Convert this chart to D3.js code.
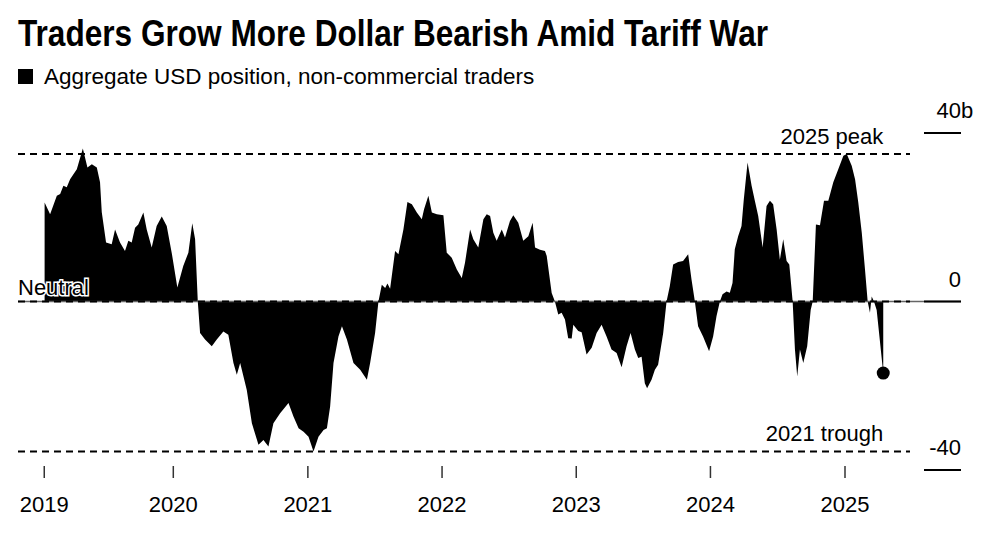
<!DOCTYPE html>
<html>
<head>
<meta charset="utf-8">
<script src="https://cdn.jsdelivr.net/npm/d3@7"></script>
<style>
  body { margin: 0; background: #fff; }
  svg { display: block; font-family: "Liberation Sans", Arial, Helvetica, sans-serif; }
</style>
</head>
<body>
<svg id="chart"></svg>
<script>
const width = 1000;
const height = 545;

// Weekly positions: fractional year, billions of USD
const weekYears = [
  2019.041, 2019.082, 2019.132, 2019.157, 2019.181, 2019.206, 2019.231, 2019.281, 2019.326, 2019.360,
  2019.393, 2019.430, 2019.454, 2019.467, 2019.499, 2019.541, 2019.566, 2019.603, 2019.640, 2019.665,
  2019.690, 2019.715, 2019.739, 2019.777, 2019.802, 2019.839, 2019.876, 2019.914, 2019.951, 2019.988,
  2020.030, 2020.074, 2020.112, 2020.141, 2020.162, 2020.182, 2020.199, 2020.236, 2020.286, 2020.323,
  2020.372, 2020.409, 2020.447, 2020.472, 2020.497, 2020.546, 2020.584, 2020.633, 2020.670, 2020.707,
  2020.744, 2020.794, 2020.856, 2020.893, 2020.931, 2020.968, 2021.005, 2021.042, 2021.079, 2021.117,
  2021.142, 2021.166, 2021.191, 2021.228, 2021.254, 2021.291, 2021.340, 2021.390, 2021.440, 2021.464,
  2021.501, 2021.526, 2021.551, 2021.576, 2021.593, 2021.613, 2021.650, 2021.675, 2021.712, 2021.742,
  2021.775, 2021.812, 2021.849, 2021.866, 2021.898, 2021.924, 2021.961, 2022.010, 2022.035, 2022.072,
  2022.110, 2022.147, 2022.171, 2022.209, 2022.233, 2022.270, 2022.308, 2022.333, 2022.358, 2022.382,
  2022.407, 2022.445, 2022.469, 2022.506, 2022.531, 2022.568, 2022.605, 2022.643, 2022.675, 2022.693,
  2022.730, 2022.767, 2022.780, 2022.817, 2022.841, 2022.866, 2022.891, 2022.916, 2022.940, 2022.966,
  2022.978, 2023.015, 2023.040, 2023.077, 2023.115, 2023.152, 2023.189, 2023.226, 2023.263, 2023.301,
  2023.338, 2023.375, 2023.405, 2023.437, 2023.462, 2023.487, 2023.511, 2023.528, 2023.561, 2023.586,
  2023.610, 2023.648, 2023.673, 2023.697, 2023.722, 2023.759, 2023.796, 2023.834, 2023.859, 2023.884,
  2023.908, 2023.945, 2023.990, 2024.020, 2024.045, 2024.070, 2024.090, 2024.120, 2024.144, 2024.164,
  2024.181, 2024.206, 2024.231, 2024.248, 2024.276, 2024.306, 2024.330, 2024.355, 2024.388, 2024.417,
  2024.442, 2024.466, 2024.492, 2024.516, 2024.541, 2024.566, 2024.586, 2024.611, 2024.628, 2024.645,
  2024.665, 2024.690, 2024.719, 2024.745, 2024.760, 2024.784, 2024.814, 2024.844, 2024.876, 2024.913,
  2024.950, 2024.988, 2025.013, 2025.050, 2025.075, 2025.099, 2025.125, 2025.149, 2025.169, 2025.186,
  2025.199, 2025.216, 2025.236, 2025.285
];

const usdPosition = [
  23.5, 20.7, 25.1, 25.5, 27.5, 27.1, 29.0, 31.4, 36.3, 31.8,
  32.6, 31.8, 28.3, 21.2, 14.0, 13.6, 17.1, 14.0, 12.0, 14.4,
  14.0, 17.5, 18.3, 21.1, 17.1, 12.8, 17.9, 20.2, 17.9, 11.6,
  3.3, 8.4, 11.6, 18.6, 14.8, 0, -7.5, -9.0, -10.6, -9.0,
  -7.1, -7.9, -14.6, -17.4, -14.6, -21.0, -28.9, -34.0, -32.9, -34.4,
  -28.9, -26.5, -24.1, -27.3, -30.1, -30.9, -32.1, -35.6, -32.1, -30.5,
  -30.1, -24.9, -14.6, -8.3, -5.9, -9.0, -14.6, -16.2, -18.6, -14.6,
  -7.5, 0, 4.0, 3.2, 4.3, 3.0, 12.0, 11.2, 17.1, 23.6,
  23.1, 21.1, 19.5, 21.9, 25.1, 21.1, 20.7, 20.5, 11.6, 10.4,
  7.6, 5.6, 9.2, 17.1, 14.8, 12.8, 19.5, 20.7, 20.3, 16.3,
  14.4, 17.1, 15.2, 19.1, 20.5, 18.7, 14.4, 15.5, 18.7, 12.8,
  12.3, 12.0, 10.8, 2.0, 0, -3.1, -2.7, -4.3, -8.7, -8.8,
  -5.5, -7.0, -7.3, -12.6, -11.0, -7.5, -5.5, -8.3, -11.4, -12.2,
  -15.6, -10.6, -7.5, -11.4, -13.4, -13.1, -19.4, -20.6, -18.6, -16.2,
  -15.0, -7.5, 0, 3.6, 8.8, 9.4, 9.6, 11.2, 5.2, 0,
  -5.9, -8.3, -11.8, -8.3, -3.5, 0, 1.7, 2.4, 2.1, 4.4,
  12.4, 15.5, 17.9, 24.3, 33.0, 27.5, 23.9, 20.3, 12.8, 22.7,
  23.9, 23.1, 17.1, 9.9, 14.8, 9.6, 8.8, 0, -11.4, -17.8,
  -11.4, -14.6, -10.6, -2.0, 0, 18.3, 18.1, 23.9, 23.9, 28.3,
  31.4, 34.6, 35.0, 32.2, 29.0, 23.5, 16.3, 7.6, 0, -2.7,
  1.2, 0, -2.0, -17.0
];

// Axis ticks
const xTickDates = ["2019-01-15", "2020-01-01", "2021-01-01", "2022-01-01", "2023-01-01", "2024-01-01", "2025-01-01"];
const xTickLabels = ["2019", "2020", "2021", "2022", "2023", "2024", "2025"];
const yTicks = [40, 0, -40];

const layout = {
    xRange: [173.3, 845],          // 2020-01-01 .. 2025-01-01
    yRange: [470, 133],            // -40 .. 40
    refLeft: 18, refRight: 910,    // dashed reference lines
    tickLeft: 924, tickRight: 961, // right axis tick marks
    xTickTop: 466, xTickBottom: 478, xLabelY: 512
};

function yearToDate(y)
{
    const yr = Math.floor(y);
    const start = Date.UTC(yr, 0, 1);
    const end = Date.UTC(yr + 1, 0, 1);
    return new Date(start + (y - yr) * (end - start));
}

const data = weekYears.map((w, i) => ({date: yearToDate(w), value: usdPosition[i]}));

const svg = d3.select("#chart")
    .attr("width", width)
    .attr("height", height);

const x = d3.scaleUtc()
    .domain([new Date(Date.UTC(2020, 0, 1)), new Date(Date.UTC(2025, 0, 1))])
    .range(layout.xRange);

const y = d3.scaleLinear()
    .domain([-40, 40])
    .range(layout.yRange);

// Title + legend
svg.append("text")
    .attr("x", 18).attr("y", 46)
    .attr("font-size", 36).attr("font-weight", "bold")
    .attr("textLength", 750).attr("lengthAdjust", "spacingAndGlyphs")
    .text("Traders Grow More Dollar Bearish Amid Tariff War");

svg.append("rect")
    .attr("x", 18).attr("y", 69).attr("width", 15).attr("height", 15)
    .attr("fill", "#000");

svg.append("text")
    .attr("x", 44).attr("y", 84)
    .attr("font-size", 22.5)
    .text("Aggregate USD position, non-commercial traders");

// The filled area
const area = d3.area()
    .x(d => x(d.date))
    .y0(y(0))
    .y1(d => y(d.value));

svg.append("path")
    .datum(data)
    .attr("d", area)
    .attr("fill", "#000");

// Zero axis, under the dashes
svg.append("line")
    .attr("x1", layout.refLeft).attr("x2", layout.tickRight)
    .attr("y1", y(0)).attr("y2", y(0))
    .attr("stroke", "#666").attr("stroke-width", 1.5);

// Reference levels: neutral, 2025 peak, 2021 trough
const peak2025 = d3.max(data.filter(d => d.date.getUTCFullYear() === 2025), d => d.value);
const trough2021 = d3.min(data.filter(d => d.date.getUTCFullYear() === 2021), d => d.value);

const refLines = [
    {value: 0, label: null},
    {value: peak2025, label: "2025 peak"},
    {value: trough2021, label: "2021 trough"}
];

svg.selectAll(".ref")
    .data(refLines)
    .join("line")
    .attr("class", "ref")
    .attr("x1", layout.refLeft).attr("x2", layout.refRight)
    .attr("y1", d => y(d.value)).attr("y2", d => y(d.value))
    .attr("stroke", "#000").attr("stroke-width", 2)
    .attr("stroke-dasharray", "7,5");

const last = data[data.length - 1];

svg.selectAll(".refLabel")
    .data(refLines.filter(d => d.label))
    .join("text")
    .attr("class", "refLabel")
    .attr("x", x(last.date))
    .attr("y", d => y(d.value) - 10)
    .attr("text-anchor", "end")
    .attr("font-size", 22)
    .text(d => d.label);

// "Neutral" with a white halo so it reads over the fill
svg.append("text")
    .attr("x", 18).attr("y", y(0) - 7)
    .attr("font-size", 22)
    .attr("fill", "#000")
    .attr("stroke", "#fff").attr("stroke-width", 3)
    .attr("paint-order", "stroke")
    .text("Neutral");

// Latest reading
svg.append("circle")
    .attr("cx", x(last.date)).attr("cy", y(last.value))
    .attr("r", 6.5)
    .attr("fill", "#000");

// Right axis
const yAxis = svg.append("g");
yTicks.forEach(v =>
{
    yAxis.append("line")
        .attr("x1", layout.tickLeft).attr("x2", layout.tickRight)
        .attr("y1", y(v)).attr("y2", y(v))
        .attr("stroke", "#000").attr("stroke-width", 2);
    yAxis.append("text")
        .attr("x", layout.tickRight).attr("y", y(v) - 15)
        .attr("text-anchor", "end")
        .attr("font-size", 22)
        .text(v);
});
// unit hangs past the numbers
yAxis.append("text")
    .attr("x", layout.tickRight).attr("y", y(40) - 15)
    .attr("font-size", 22)
    .text("b");

// Bottom axis
const xAxis = svg.append("g");
xTickDates.forEach((s, i) =>
{
    const px = x(new Date(s + "T00:00:00Z"));
    xAxis.append("line")
        .attr("x1", px).attr("x2", px)
        .attr("y1", layout.xTickTop).attr("y2", layout.xTickBottom)
        .attr("stroke", "#333").attr("stroke-width", 1.5);
    xAxis.append("text")
        .attr("x", px).attr("y", layout.xLabelY)
        .attr("text-anchor", "middle")
        .attr("font-size", 22)
        .text(xTickLabels[i]);
});
</script>
</body>
</html>
